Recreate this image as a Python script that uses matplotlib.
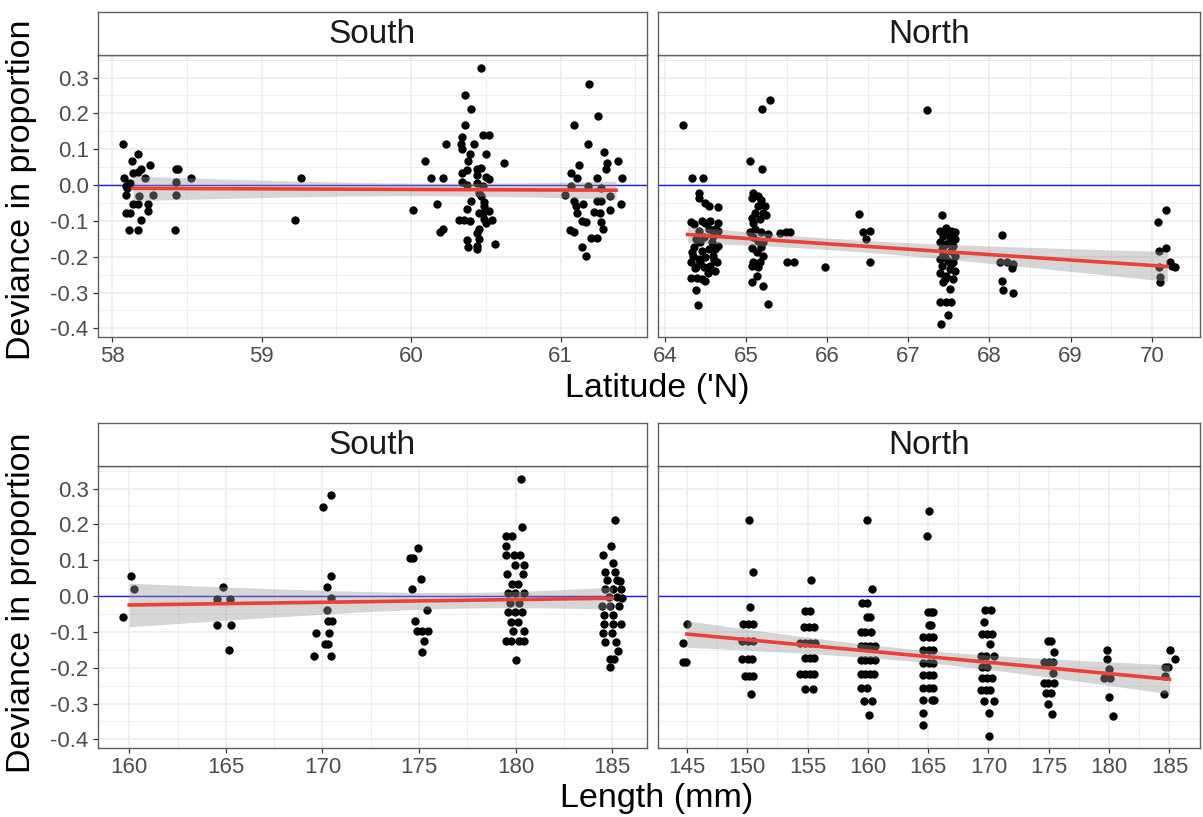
import numpy as np
import matplotlib.pyplot as plt
from matplotlib.ticker import MultipleLocator, FormatStrFormatter

plt.rcParams['font.family'] = ['Liberation Sans', 'DejaVu Sans']
plt.rcParams['axes.unicode_minus'] = False

# Latitude, South (points are jittered around the sampling sites)
lat_s_sites = [58.14, 58.43, 59.24, 60.38, 61.37]
lat_s_x = [58.07, 58.17, 58.13, 58.25, 58.14, 58.17, 58.19, 58.08, 58.22, 58.09,
           58.10, 58.12, 58.09, 58.18, 58.27, 58.14, 58.17, 58.24, 58.24, 58.09,
           58.12, 58.19, 58.11, 58.17, 58.43, 58.44, 58.43, 58.43, 58.42, 58.53,
           59.26, 59.22,
           60.47, 60.36, 60.40, 60.36, 60.48, 60.52, 60.34, 60.23, 60.33, 60.34,
           60.42, 60.39, 60.50, 60.09, 60.38, 60.62, 60.47, 60.44, 60.37, 60.34,
           60.44, 60.50, 60.52, 60.13, 60.21, 60.34, 60.37, 60.44, 60.48, 60.45,
           60.47, 60.40, 60.49, 60.17, 60.49, 60.37, 60.01, 60.45, 60.52, 60.48,
           60.32, 60.35, 60.39, 60.49, 60.54, 60.50, 60.21, 60.19, 60.45, 60.44,
           60.37, 60.45, 60.38, 60.44, 60.44, 60.56,
           61.19, 61.25, 61.09, 61.18, 61.29, 61.31, 61.30, 61.38, 61.12, 61.07,
           61.11, 61.24, 61.41, 61.07, 61.18, 61.27, 61.03, 61.33, 61.09, 61.15,
           61.10, 61.24, 61.27, 61.40, 61.11, 61.22, 61.26, 61.33, 61.14, 61.17,
           61.27, 61.06, 61.09, 61.28, 61.20, 61.24, 61.14, 61.17]
lat_s_y = [0.115, 0.088, 0.067, 0.057, 0.034, 0.036, 0.044, 0.019, 0.019, -0.003,
           -0.007, 0.006, -0.029, -0.031, -0.029, -0.054, -0.052, -0.054, -0.072, -0.077,
           -0.077, -0.097, -0.126, -0.124, 0.044, 0.044, 0.009, -0.029, -0.124, 0.019,
           0.019, -0.097,
           0.326, 0.250, 0.212, 0.167, 0.140, 0.140, 0.134, 0.115, 0.115, 0.102,
           0.115, 0.088, 0.088, 0.067, 0.067, 0.062, 0.048, 0.044, 0.042, 0.034,
           0.027, 0.022, 0.018, 0.019, 0.019, 0.009, -0.001, 0.006, -0.003, -0.021,
           -0.031, -0.044, -0.047, -0.054, -0.058, -0.068, -0.070, -0.077, -0.072, -0.079,
           -0.097, -0.097, -0.100, -0.095, -0.097, -0.105, -0.123, -0.132, -0.123, -0.134,
           -0.153, -0.151, -0.174, -0.169, -0.179, -0.165,
           0.281, 0.194, 0.167, 0.115, 0.092, 0.062, 0.044, 0.067, 0.057, 0.034,
           0.020, 0.019, 0.019, -0.003, -0.003, -0.007, -0.029, -0.031, -0.044, -0.054,
           -0.058, -0.044, -0.044, -0.054, -0.077, -0.074, -0.079, -0.070, -0.100, -0.102,
           -0.103, -0.125, -0.132, -0.123, -0.149, -0.149, -0.174, -0.199]

# Latitude, North
lat_n_sites = [64.28, 64.50, 65.15, 65.50, 66.00, 66.50, 67.23, 67.48, 68.20, 70.19]
lat_n_x = [64.22, 64.34, 64.47, 64.42, 64.42, 64.50, 64.54, 64.65, 64.32, 64.36,
           64.46, 64.50, 64.56, 64.66, 64.66, 64.62, 64.54, 64.42, 64.38, 64.48,
           64.60, 64.66, 64.62, 64.54, 64.46, 64.34, 64.32, 64.42, 64.50, 64.60,
           64.64, 64.38, 64.48, 64.56, 64.62, 64.32, 64.40, 64.46, 64.50, 64.39,
           64.41, 64.36, 64.44, 64.58, 64.35, 64.44, 64.53, 64.61, 64.37,
           65.05, 65.20, 65.20, 65.30, 65.09, 65.15, 65.07, 65.18, 65.23, 65.15,
           65.21, 65.11, 65.25, 65.07, 65.17, 65.09, 65.11, 65.05, 65.19, 65.27,
           65.09, 65.15, 65.21, 65.07, 65.19, 65.13, 65.21, 65.09, 65.17, 65.07,
           65.15, 65.13, 65.07, 65.21, 65.27,
           65.42, 65.49, 65.54, 65.51, 65.59, 65.97, 66.39, 66.44, 66.53, 66.48,
           66.53, 67.23,
           67.42, 67.39, 67.47, 67.53, 67.57, 67.43, 67.51, 67.57, 67.39, 67.47,
           67.55, 67.41, 67.53, 67.43, 67.57, 67.39, 67.49, 67.55, 67.41, 67.51,
           67.57, 67.39, 67.47, 67.55, 67.43, 67.51, 67.39, 67.53, 67.49, 67.40,
           67.45, 67.51, 67.45, 67.53, 67.45, 67.47,
           68.16, 68.13, 68.21, 68.29, 68.28, 68.16, 68.17, 68.29,
           70.17, 70.08, 70.17, 70.09, 70.22, 70.25, 70.29, 70.09, 70.10, 70.10]
lat_n_y = [0.167, 0.019, 0.019, -0.021, -0.037, -0.049, -0.058, -0.060, -0.102, -0.109,
           -0.100, -0.105, -0.100, -0.105, -0.128, -0.123, -0.123, -0.128, -0.151, -0.146,
           -0.142, -0.169, -0.179, -0.179, -0.183, -0.188, -0.216, -0.206, -0.202, -0.197,
           -0.216, -0.230, -0.230, -0.225, -0.239, -0.260, -0.260, -0.262, -0.269, -0.292,
           -0.334, -0.174, -0.160, -0.160, -0.197, -0.214, -0.244, -0.210, -0.232,
           0.067, 0.044, 0.212, 0.237, -0.021, -0.031, -0.037, -0.042, -0.058, -0.058,
           -0.077, -0.077, -0.083, -0.091, -0.095, -0.105, -0.123, -0.131, -0.132, -0.137,
           -0.146, -0.156, -0.160, -0.177, -0.174, -0.188, -0.197, -0.216, -0.216, -0.225,
           -0.230, -0.253, -0.271, -0.282, -0.333,
           -0.135, -0.131, -0.131, -0.216, -0.216, -0.230, -0.080, -0.131, -0.128, -0.151,
           -0.216, 0.210,
           -0.084, -0.128, -0.119, -0.128, -0.131, -0.142, -0.142, -0.151, -0.160, -0.165,
           -0.169, -0.179, -0.183, -0.193, -0.197, -0.206, -0.211, -0.216, -0.225, -0.234,
           -0.239, -0.244, -0.253, -0.262, -0.271, -0.290, -0.325, -0.327, -0.362, -0.389,
           -0.131, -0.155, -0.202, -0.220, -0.262, -0.327,
           -0.138, -0.216, -0.216, -0.220, -0.232, -0.269, -0.292, -0.301,
           -0.070, -0.102, -0.177, -0.185, -0.216, -0.225, -0.230, -0.230, -0.257, -0.271]

# Length, South (lengths recorded in 5 mm steps, jittered)
len_s_x = [160.09, 160.26, 159.66,
           164.83, 164.54, 165.22, 164.54, 165.27, 165.15,
           170.02, 170.43, 170.45, 170.22, 170.45, 170.22, 170.27, 170.48, 169.64, 170.36,
           170.15, 170.27, 169.54, 170.45,
           174.95, 174.52, 174.66, 175.09, 174.62, 175.43, 174.78, 174.88, 175.17, 175.46,
           175.26, 175.17,
           180.29, 180.33, 179.47, 179.81, 179.52, 179.52, 179.90, 180.24, 179.98, 180.41,
           179.55, 180.38, 179.81, 180.10, 179.60, 179.98, 180.41, 179.72, 180.15, 179.60,
           179.98, 180.33, 179.76, 180.10, 179.88, 180.41, 179.52, 179.78, 180.15, 180.41,
           180.02,
           185.14, 184.93, 184.50, 185.05, 184.64, 185.15, 184.73, 185.24, 185.40, 184.64,
           185.05, 185.45, 184.81, 185.24, 185.50, 184.47, 184.90, 185.33, 184.55, 185.05,
           184.55, 185.05, 185.43, 184.50, 184.97, 184.64, 185.19, 185.31, 184.88, 185.10,
           184.88]
len_s_y = [0.056, 0.019, -0.059,
           0.026, -0.009, -0.009, -0.080, -0.080, -0.150,
           0.248, 0.281, 0.056, 0.026, -0.006, -0.039, -0.070, -0.070, -0.102, -0.102,
           -0.133, -0.133, -0.166, -0.166,
           0.135, 0.107, 0.106, 0.049, 0.020, -0.039, -0.069, -0.097, -0.097, -0.097,
           -0.126, -0.155,
           0.327, 0.194, 0.167, 0.167, 0.141, 0.114, 0.114, 0.114, 0.088, 0.088,
           0.061, 0.061, 0.035, 0.035, 0.008, 0.008, 0.008, -0.019, -0.019, -0.044,
           -0.044, -0.044, -0.071, -0.071, -0.097, -0.097, -0.124, -0.124, -0.124, -0.124,
           -0.178,
           0.211, 0.139, 0.114, 0.091, 0.066, 0.066, 0.044, 0.044, 0.042, 0.019,
           0.019, 0.019, -0.002, -0.002, -0.004, -0.027, -0.027, -0.027, -0.053, -0.053,
           -0.078, -0.078, -0.078, -0.102, -0.102, -0.127, -0.127, -0.152, -0.175, -0.175,
           -0.199]

# Length, North
len_n_x = [145.00, 144.70, 144.65, 144.92,
           150.14, 150.49, 150.25, 149.65, 150.06, 150.52, 149.57, 150.06, 150.47, 149.60,
           150.06, 150.41, 149.79, 150.14, 150.47, 150.28,
           155.31, 154.80, 155.20, 154.72, 155.12, 155.53, 154.39, 154.80, 155.20, 155.61,
           154.80, 155.20, 155.53, 154.39, 154.80, 155.20, 155.55, 154.80, 155.42,
           159.94, 160.35, 159.53, 159.94, 159.94, 160.21, 159.40, 159.80, 160.29, 159.40,
           159.80, 160.21, 160.56, 159.40, 159.80, 160.21, 160.56, 159.40, 159.80, 160.21,
           160.48, 159.40, 159.94, 159.67, 160.35, 160.13,
           165.05, 164.92, 164.95, 165.25, 165.44, 165.10, 165.25, 164.60, 165.11, 165.38,
           164.55, 165.11, 165.44, 164.55, 165.11, 165.38, 164.55, 165.11, 165.38, 164.55,
           165.11, 165.38, 164.55, 165.33, 165.52, 164.60, 164.55,
           169.69, 170.23, 169.60, 169.47, 169.88, 170.29, 170.10, 169.41, 169.82, 170.42,
           169.47, 169.88, 169.47, 169.88, 170.29, 169.41, 169.82, 170.15, 169.60, 170.42,
           170.01, 170.01,
           174.92, 175.19, 175.41, 174.59, 175.05, 175.33, 175.33, 174.59, 174.97, 175.41,
           174.78, 175.19, 174.97, 175.25,
           179.82, 179.82, 179.96, 179.55, 180.04, 179.96, 180.31,
           185.05, 185.49, 184.59, 184.92, 184.59, 184.54]
len_n_y = [-0.078, -0.131, -0.185, -0.185,
           0.211, 0.066, -0.031, -0.079, -0.079, -0.079, -0.125, -0.125, -0.125, -0.176,
           -0.176, -0.176, -0.224, -0.224, -0.224, -0.272,
           0.044, -0.042, -0.042, -0.085, -0.085, -0.085, -0.130, -0.130, -0.130, -0.130,
           -0.173, -0.173, -0.173, -0.217, -0.217, -0.217, -0.217, -0.259, -0.259,
           0.211, 0.019, -0.020, -0.020, -0.059, -0.059, -0.099, -0.099, -0.099, -0.138,
           -0.138, -0.138, -0.138, -0.178, -0.178, -0.178, -0.178, -0.217, -0.217, -0.217,
           -0.217, -0.256, -0.256, -0.294, -0.294, -0.333,
           0.237, 0.167, -0.045, -0.045, -0.045, -0.081, -0.081, -0.115, -0.115, -0.115,
           -0.151, -0.151, -0.151, -0.187, -0.187, -0.187, -0.219, -0.219, -0.219, -0.256,
           -0.256, -0.256, -0.291, -0.289, -0.289, -0.327, -0.361,
           -0.038, -0.038, -0.071, -0.105, -0.105, -0.105, -0.134, -0.166, -0.166, -0.166,
           -0.197, -0.197, -0.229, -0.229, -0.229, -0.262, -0.262, -0.262, -0.294, -0.294,
           -0.327, -0.390,
           -0.125, -0.125, -0.155, -0.185, -0.185, -0.185, -0.215, -0.242, -0.242, -0.242,
           -0.271, -0.271, -0.300, -0.329,
           -0.150, -0.177, -0.204, -0.229, -0.229, -0.282, -0.335,
           -0.150, -0.177, -0.199, -0.199, -0.224, -0.272]

yticks = [-0.4, -0.3, -0.2, -0.1, 0.0, 0.1, 0.2, 0.3]

W, H = 1203, 817
fig = plt.figure(figsize=(W / 100, H / 100), dpi=100)

EDGE = '#5f5f5f'


def snap_sites(x, sites):
    x = np.asarray(x)
    sites = np.asarray(sites)
    return sites[np.abs(x[:, None] - sites[None, :]).argmin(axis=1)]


def panel(px, title, xs, ys, xfit, xticks, xminor, show_y):
    # px = (left, top, right, bottom) in pixels
    l, t, r, b = px
    ax = fig.add_axes([l / W, 1 - b / H, (r - l) / W, (b - t) / H])
    ax.set_facecolor('white')
    ax.axhline(0, color='#1a1aff', lw=1.0, zorder=2)
    ax.scatter(xs, ys, s=36, color='black', linewidths=0, zorder=3)

    # linear fit with 95% band, as geom_smooth(method = "lm")
    xfit = np.asarray(xfit, float)
    y = np.asarray(ys, float)
    n = len(xfit)
    b1, b0 = np.polyfit(xfit, y, 1)
    resid = y - (b0 + b1 * xfit)
    s = np.sqrt(np.sum(resid ** 2) / (n - 2))
    xm = xfit.mean()
    sxx = np.sum((xfit - xm) ** 2)
    xg = np.linspace(xfit.min(), xfit.max(), 80)
    yg = b0 + b1 * xg
    se = s * np.sqrt(1 / n + (xg - xm) ** 2 / sxx)
    ax.fill_between(xg, yg - 1.97 * se, yg + 1.97 * se, color='#999999',
                    alpha=0.4, lw=0, zorder=4)
    ax.plot(xg, yg, color='#ee4036', lw=2.6, zorder=5)

    ax.set_ylim(-0.424, 0.363)
    span = max(xs) - min(xs)
    ax.set_xlim(min(xs) - 0.05 * span, max(xs) + 0.05 * span)
    ax.set_yticks(yticks)
    ax.yaxis.set_minor_locator(MultipleLocator(0.05))
    ax.yaxis.set_major_formatter(FormatStrFormatter('%.1f'))
    ax.set_xticks(xticks)
    ax.set_xticks(xminor, minor=True)
    ax.set_xticklabels([str(v) for v in xticks])
    ax.grid(which='major', color='#ebebeb', lw=1.1, zorder=0)
    ax.grid(which='minor', color='#ebebeb', lw=0.6, zorder=0)
    ax.set_axisbelow(True)
    for sp in ax.spines.values():
        sp.set_color(EDGE)
        sp.set_linewidth(1.0)
    ax.tick_params(which='major', length=3.5, width=0.9, color='#333333',
                   labelsize=16, labelcolor='#4d4d4d', pad=3)
    ax.tick_params(which='minor', length=0)
    if not show_y:
        ax.tick_params(axis='y', which='both', length=0, labelleft=False)

    # facet strip
    sh = 43
    st = fig.add_axes([l / W, 1 - t / H, (r - l) / W, sh / H])
    st.set_facecolor('white')
    st.set_xticks([])
    st.set_yticks([])
    for sp in st.spines.values():
        sp.set_color(EDGE)
        sp.set_linewidth(1.0)
    st.text(0.5, 0.47, title, ha='center', va='center', fontsize=24,
            color='#1a1a1a', transform=st.transAxes)
    return ax


lat_s_fit = snap_sites(lat_s_x, lat_s_sites)
lat_n_fit = snap_sites(lat_n_x, lat_n_sites)
len_s_fit = np.round(np.asarray(len_s_x) / 5) * 5
len_n_fit = np.round(np.asarray(len_n_x) / 5) * 5

panel((97.7, 55, 647, 337), 'South', lat_s_x, lat_s_y, lat_s_fit,
      [58, 59, 60, 61], [58.5, 59.5, 60.5, 61.5], True)
panel((658, 55, 1200, 337), 'North', lat_n_x, lat_n_y, lat_n_fit,
      [64, 65, 66, 67, 68, 69, 70], [64.5, 65.5, 66.5, 67.5, 68.5, 69.5, 70.5], False)
panel((97.7, 466, 647, 748), 'South', len_s_x, len_s_y, len_s_fit,
      [160, 165, 170, 175, 180, 185], [162.5, 167.5, 172.5, 177.5, 182.5], True)
panel((658, 466, 1200, 748), 'North', len_n_x, len_n_y, len_n_fit,
      [145, 150, 155, 160, 165, 170, 175, 180, 185],
      [147.5, 152.5, 157.5, 162.5, 167.5, 172.5, 177.5, 182.5], False)

fig.text(657 / W, 1 - 388 / H, "Latitude ('N)", ha='center', va='center', fontsize=24.5)
fig.text(657 / W, 1 - 799 / H, 'Length (mm)', ha='center', va='center', fontsize=24.5)
fig.text(22 / W, 1 - 190 / H, 'Deviance in proportion', ha='center', va='center',
         rotation=90, fontsize=24.5)
fig.text(22 / W, 1 - 603 / H, 'Deviance in proportion', ha='center', va='center',
         rotation=90, fontsize=24.5)

fig.savefig('out.png', dpi=100)
